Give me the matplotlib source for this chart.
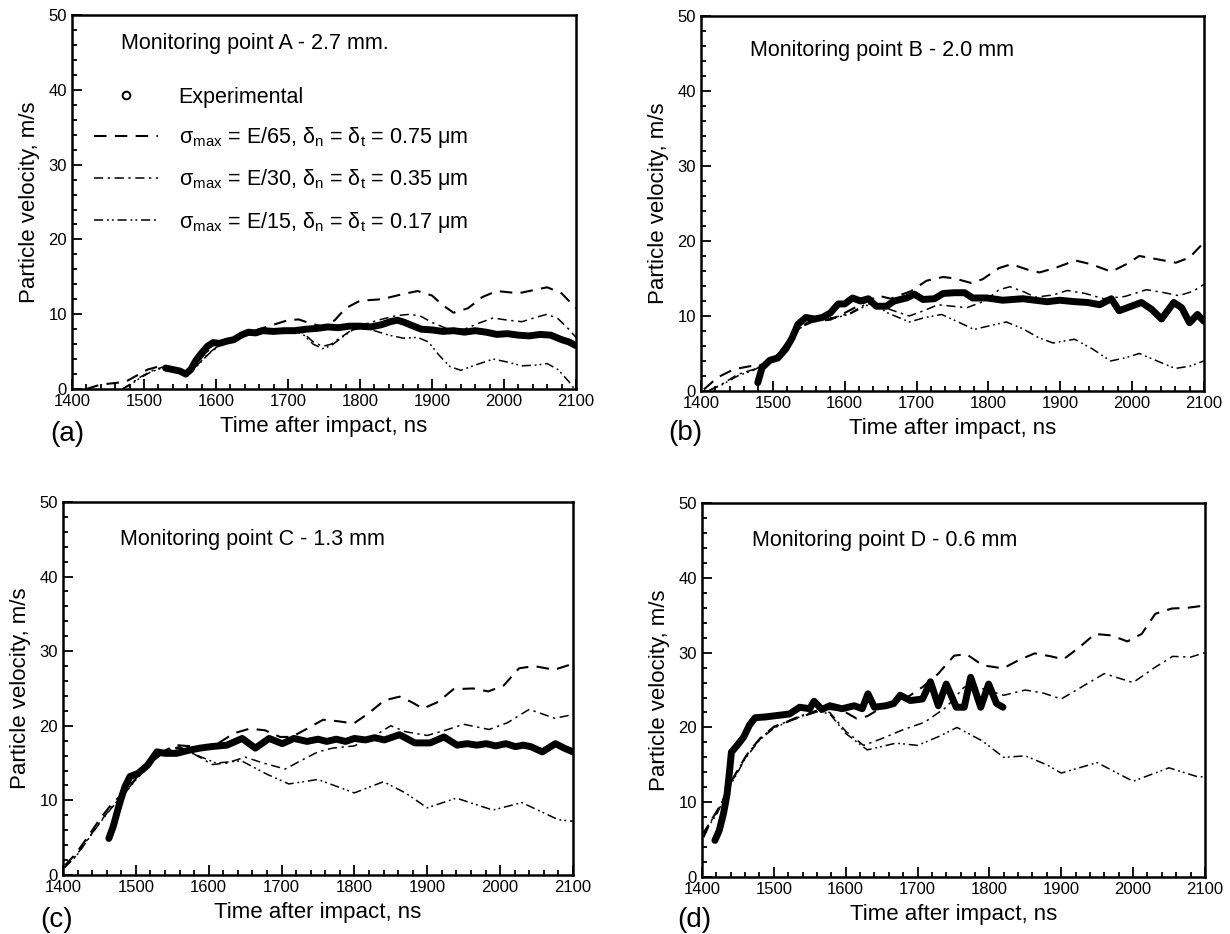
import matplotlib
matplotlib.use("Agg")
import matplotlib.pyplot as plt
from matplotlib.lines import Line2D
from matplotlib.ticker import MultipleLocator

plt.rcParams['font.family'] = ['Liberation Sans', 'DejaVu Sans']
plt.rcParams['mathtext.fontset'] = 'custom'
plt.rcParams['mathtext.rm'] = 'Liberation Sans'
plt.rcParams['mathtext.it'] = 'Liberation Sans:italic'

# ---------------- data: panel (a) ----------------
a_exp_t = [1530, 1540, 1550, 1558, 1565, 1572, 1580, 1588, 1596, 1605, 1615, 1625, 1635, 1645, 1655,
           1665, 1680, 1695, 1710, 1725, 1740, 1755, 1770, 1785, 1800, 1815, 1830, 1842, 1852, 1862,
           1872, 1885, 1900, 1915, 1930, 1945, 1960, 1975, 1990, 2005, 2020, 2035, 2050, 2065, 2080,
           2090, 2100]
a_exp_v = [2.8, 2.6, 2.4, 2.0, 2.6, 3.8, 4.8, 5.7, 6.2, 6.1, 6.4, 6.6, 7.2, 7.6, 7.5,
           7.8, 7.7, 7.8, 7.8, 8.0, 8.1, 8.3, 8.2, 8.4, 8.4, 8.3, 8.6, 9.0, 9.2, 8.9,
           8.5, 8.0, 7.9, 7.7, 7.8, 7.6, 7.8, 7.6, 7.3, 7.4, 7.2, 7.1, 7.3, 7.2, 6.6,
           6.3, 5.8]
a_e65_t = [1420, 1440, 1460, 1475, 1490, 1505, 1520, 1535, 1550, 1562, 1572, 1585, 1600, 1620, 1640,
           1660, 1680, 1700, 1715, 1730, 1750, 1765, 1780, 1800, 1830, 1860, 1880, 1900, 1915, 1930,
           1950, 1970, 1990, 2020, 2045, 2060, 2080, 2100]
a_e65_v = [0.0, 0.6, 0.8, 1.0, 1.8, 2.6, 3.0, 2.7, 2.4, 2.2, 3.2, 4.8, 6.0, 6.5, 7.3,
           8.0, 8.6, 9.2, 9.3, 8.8, 8.3, 9.2, 10.8, 11.8, 12.0, 12.7, 13.1, 12.5, 11.2, 10.2,
           10.8, 12.3, 13.1, 12.8, 13.3, 13.6, 12.8, 10.8]
a_e30_t = [1470, 1480, 1495, 1510, 1525, 1540, 1555, 1565, 1575, 1590, 1605, 1620, 1640, 1660, 1680,
           1700, 1720, 1735, 1748, 1760, 1775, 1790, 1805, 1825, 1850, 1870, 1885, 1900, 1920, 1945,
           1965, 1985, 2005, 2025, 2045, 2060, 2075, 2090, 2100]
a_e30_v = [0.0, 0.6, 1.6, 2.4, 2.9, 2.6, 2.1, 2.3, 3.3, 4.8, 5.9, 6.5, 7.2, 7.6, 7.9,
           8.0, 7.6, 6.3, 5.7, 6.0, 7.0, 8.0, 8.6, 9.2, 9.8, 10.0, 9.7, 8.9, 8.1, 8.0,
           8.8, 9.5, 9.2, 9.0, 9.6, 10.0, 9.4, 8.0, 6.9]
a_e15_t = [1470, 1480, 1495, 1510, 1525, 1540, 1555, 1565, 1575, 1590, 1605, 1620, 1640, 1660, 1680,
           1700, 1720, 1735, 1748, 1760, 1775, 1790, 1805, 1820, 1840, 1860, 1880, 1895, 1910, 1925,
           1940, 1960, 1985, 2005, 2025, 2045, 2060, 2075, 2090, 2098]
a_e15_v = [0.0, 0.5, 1.5, 2.3, 2.8, 2.6, 2.1, 2.2, 3.2, 4.7, 5.8, 6.4, 7.1, 7.5, 7.8,
           7.9, 7.4, 6.0, 5.4, 5.8, 6.9, 7.9, 8.2, 7.8, 7.2, 6.8, 6.9, 6.3, 4.5, 3.0,
           2.5, 3.2, 4.0, 3.6, 3.1, 3.2, 3.4, 2.6, 1.0, 0.0]

# ---------------- data: panel (b) ----------------
b_exp_t = [1479, 1485, 1496, 1507, 1518, 1527, 1535, 1546, 1558, 1569, 1580, 1591, 1600, 1611, 1622,
           1633, 1644, 1658, 1669, 1686, 1697, 1709, 1725, 1737, 1753, 1767, 1778, 1798, 1820, 1848,
           1865, 1882, 1899, 1921, 1938, 1955, 1971, 1982, 1999, 2013, 2027, 2041, 2058, 2069, 2080,
           2091, 2100]
b_exp_v = [1.1, 3.1, 4.1, 4.4, 5.6, 7.1, 8.9, 9.8, 9.6, 9.8, 10.4, 11.6, 11.6, 12.4, 12.0,
           12.3, 11.3, 11.3, 12.0, 12.4, 12.9, 12.2, 12.3, 13.0, 13.1, 13.1, 12.4, 12.4, 12.1, 12.3,
           12.1, 11.9, 12.1, 11.9, 11.8, 11.5, 12.3, 10.7, 11.3, 11.8, 10.9, 9.6, 11.8, 11.1, 9.1,
           10.2, 9.3]
b_e65_t = [1404, 1423, 1446, 1468, 1485, 1500, 1520, 1535, 1550, 1580, 1600, 1620, 1647, 1664, 1692,
           1714, 1737, 1753, 1776, 1792, 1815, 1832, 1854, 1871, 1893, 1921, 1943, 1971, 1994, 2010,
           2033, 2061, 2080, 2100]
b_e65_v = [0.2, 1.8, 2.9, 3.3, 3.5, 4.3, 6.0, 8.3, 9.2, 9.5, 10.4, 11.4, 12.7, 12.3, 13.3,
           14.7, 15.2, 15.0, 14.4, 14.9, 16.4, 16.9, 16.2, 15.8, 16.4, 17.4, 16.9, 15.9, 17.0, 18.0,
           17.6, 17.1, 17.8, 19.8]
b_e30_t = [1412, 1429, 1451, 1474, 1490, 1507, 1524, 1541, 1563, 1586, 1608, 1630, 1645, 1665, 1690,
           1710, 1730, 1750, 1770, 1795, 1815, 1830, 1850, 1865, 1890, 1910, 1935, 1960, 1990, 2020,
           2045, 2065, 2085, 2100]
b_e30_v = [0.1, 0.9, 2.2, 2.9, 3.8, 4.9, 7.1, 8.7, 9.6, 9.8, 10.4, 11.6, 11.6, 10.8, 10.0,
           10.7, 11.5, 11.3, 11.1, 12.0, 13.5, 13.9, 13.2, 12.5, 12.8, 13.4, 13.0, 12.3, 12.6, 13.5,
           13.1, 12.7, 13.3, 14.2]
b_e15_t = [1412, 1429, 1451, 1474, 1490, 1507, 1524, 1541, 1563, 1586, 1608, 1630, 1642, 1660, 1690,
           1712, 1735, 1758, 1780, 1802, 1825, 1848, 1870, 1890, 1920, 1945, 1970, 1990, 2010, 2035,
           2060, 2080, 2100]
b_e15_v = [0.1, 0.8, 2.0, 2.8, 3.7, 4.8, 7.0, 8.6, 9.5, 9.7, 10.3, 11.4, 11.5, 10.4, 9.2,
           9.8, 10.2, 9.2, 8.2, 8.7, 9.2, 8.3, 7.1, 6.4, 6.9, 5.6, 4.0, 4.4, 5.0, 4.0,
           3.0, 3.3, 4.0]

# ---------------- data: panel (c) ----------------
c_exp_t = [1463, 1469, 1474, 1479, 1485, 1492, 1503, 1516, 1529, 1540, 1556, 1572, 1588, 1603, 1625,
           1646, 1664, 1683, 1701, 1717, 1735, 1750, 1762, 1775, 1788, 1800, 1815, 1828, 1841, 1862,
           1883, 1904, 1923, 1941, 1955, 1968, 1981, 1994, 2008, 2021, 2032, 2042, 2058, 2076, 2088,
           2100]
c_exp_v = [4.9, 6.5, 8.3, 10.0, 11.8, 13.2, 13.6, 14.7, 16.5, 16.3, 16.3, 16.7, 17.0, 17.2, 17.4,
           18.3, 17.0, 18.3, 17.6, 18.3, 17.9, 18.2, 17.9, 18.2, 17.9, 18.3, 18.1, 18.4, 18.1, 18.8,
           17.7, 17.7, 18.5, 17.4, 17.6, 17.4, 17.6, 17.3, 17.6, 17.2, 17.4, 17.2, 16.5, 17.6, 17.0,
           16.5]
c_e65_t = [1403, 1418, 1434, 1450, 1466, 1482, 1498, 1519, 1540, 1556, 1582, 1609, 1635, 1656, 1677,
           1698, 1714, 1735, 1757, 1778, 1799, 1820, 1841, 1862, 1878, 1894, 1915, 1936, 1963, 1984,
           2005, 2026, 2047, 2074, 2100]
c_e65_v = [1.3, 2.9, 5.1, 7.4, 9.4, 10.9, 12.7, 15.2, 16.7, 17.4, 17.2, 17.4, 19.0, 19.6, 19.4,
           18.5, 18.5, 19.6, 20.8, 20.6, 20.3, 21.7, 23.4, 23.9, 23.2, 22.3, 23.2, 24.9, 25.0, 24.6,
           25.4, 27.7, 28.0, 27.5, 28.3]
c_e30_t = [1402, 1418, 1434, 1450, 1466, 1482, 1498, 1519, 1540, 1560, 1580, 1605, 1625, 1650, 1675,
           1705, 1730, 1750, 1770, 1800, 1825, 1850, 1870, 1900, 1925, 1950, 1985, 2010, 2040, 2075,
           2100]
c_e30_v = [1.0, 2.6, 4.8, 7.0, 9.0, 10.7, 12.6, 15.0, 16.6, 17.2, 16.2, 14.8, 15.0, 15.8, 15.0,
           14.2, 15.5, 16.5, 17.0, 17.3, 18.5, 20.0, 19.2, 18.7, 19.4, 20.2, 19.5, 20.4, 22.2, 21.0,
           21.5]
c_e15_t = [1402, 1418, 1434, 1450, 1466, 1482, 1498, 1519, 1540, 1560, 1585, 1610, 1645, 1680, 1710,
           1750, 1800, 1840, 1870, 1900, 1940, 1990, 2030, 2080, 2100]
c_e15_v = [1.0, 2.5, 4.7, 6.9, 8.9, 10.6, 12.5, 14.9, 16.5, 17.0, 16.0, 15.0, 15.3, 13.5, 12.2,
           12.8, 11.0, 12.5, 11.0, 9.0, 10.3, 8.7, 9.7, 7.4, 7.2]

# ---------------- data: panel (d) ----------------
d_exp_t = [1418, 1424, 1430, 1435, 1438, 1441, 1449, 1458, 1466, 1474, 1488, 1505, 1522, 1536, 1550,
           1556, 1567, 1578, 1595, 1612, 1623, 1631, 1640, 1656, 1667, 1676, 1690, 1707, 1718, 1729,
           1740, 1754, 1765, 1774, 1788, 1799, 1810, 1819]
d_exp_v = [4.9, 6.2, 8.5, 11.1, 13.8, 16.7, 17.6, 18.7, 20.3, 21.3, 21.4, 21.6, 21.8, 22.7, 22.5,
           23.5, 22.4, 22.9, 22.5, 22.9, 22.5, 24.5, 22.7, 22.9, 23.2, 24.3, 23.6, 23.8, 26.1, 22.9,
           25.8, 22.7, 22.7, 26.7, 22.7, 25.8, 23.2, 22.7]
d_e65_t = [1402, 1413, 1427, 1438, 1452, 1466, 1483, 1500, 1522, 1550, 1572, 1595, 1615, 1630, 1651,
           1679, 1707, 1729, 1751, 1768, 1791, 1819, 1841, 1863, 1886, 1903, 1925, 1947, 1970, 1992,
           2012, 2031, 2054, 2076, 2100]
d_e65_v = [5.3, 7.6, 9.8, 12.3, 14.7, 16.9, 18.7, 20.1, 20.9, 21.8, 22.5, 22.3, 21.2, 21.5, 22.7,
           23.6, 25.4, 27.2, 29.6, 29.8, 28.3, 27.9, 29.0, 29.9, 29.5, 29.1, 30.7, 32.5, 32.3, 31.5,
           32.5, 35.2, 35.9, 36.0, 36.3]
d_e30_t = [1402, 1420, 1440, 1460, 1480, 1500, 1530, 1560, 1578, 1600, 1625, 1650, 1680, 1710, 1740,
           1765, 1790, 1820, 1850, 1875, 1900, 1930, 1960, 2000, 2030, 2055, 2080, 2100]
d_e30_v = [6.0, 8.5, 12.5, 16.0, 18.5, 20.0, 21.3, 22.3, 22.0, 19.5, 17.6, 18.5, 19.7, 20.7, 22.7,
           25.4, 25.2, 24.3, 25.0, 24.6, 23.8, 25.5, 27.2, 26.0, 28.0, 29.5, 29.4, 30.0]
d_e15_t = [1402, 1420, 1440, 1460, 1480, 1500, 1530, 1560, 1578, 1600, 1630, 1670, 1700, 1730, 1755,
           1790, 1820, 1850, 1880, 1900, 1950, 2000, 2050, 2090, 2100]
d_e15_v = [5.8, 8.3, 12.3, 15.8, 18.3, 19.9, 21.2, 22.2, 21.8, 19.2, 17.0, 17.9, 17.6, 18.8, 20.0,
           18.2, 16.0, 16.2, 15.0, 13.9, 15.3, 12.8, 14.6, 13.4, 13.4]

panel_letters = ['(a)', '(b)', '(c)', '(d)']
panel_titles = ['Monitoring point A - 2.7 mm.', 'Monitoring point B - 2.0 mm',
                'Monitoring point C - 1.3 mm', 'Monitoring point D - 0.6 mm']
legend_labels = ['Experimental',
                 'σ$_{\\rm max}$ = E/65, δ$_{\\rm n}$ = δ$_{\\rm t}$ = 0.75 μm',
                 'σ$_{\\rm max}$ = E/30, δ$_{\\rm n}$ = δ$_{\\rm t}$ = 0.35 μm',
                 'σ$_{\\rm max}$ = E/15, δ$_{\\rm n}$ = δ$_{\\rm t}$ = 0.17 μm']
xlabel = 'Time after impact, ns'
ylabel = 'Particle velocity, m/s'

panels = [
    (a_exp_t, a_exp_v, a_e65_t, a_e65_v, a_e30_t, a_e30_v, a_e15_t, a_e15_v),
    (b_exp_t, b_exp_v, b_e65_t, b_e65_v, b_e30_t, b_e30_v, b_e15_t, b_e15_v),
    (c_exp_t, c_exp_v, c_e65_t, c_e65_v, c_e30_t, c_e30_v, c_e15_t, c_e15_v),
    (d_exp_t, d_exp_v, d_e65_t, d_e65_v, d_e30_t, d_e30_v, d_e15_t, d_e15_v),
]

# layout (figure fractions)
rects = [
    [0.0585, 0.5835, 0.4098, 0.4004],
    [0.5699, 0.5814, 0.4089, 0.4015],
    [0.0512, 0.0632, 0.4146, 0.3994],
    [0.5707, 0.0610, 0.4089, 0.4004],
]
letter_pos = [(-0.044, -0.12), (-0.066, -0.112), (-0.045, -0.12), (-0.05, -0.115)]
title_pos = [(0.097, 0.925), (0.097, 0.907), (0.112, 0.898), (0.099, 0.901)]

LS_65 = (0, (6, 4))
LS_30 = (0, (6, 3, 1.5, 3))
LS_15 = (0, (6, 2.5, 1.2, 2, 1.2, 2.5))

fig = plt.figure(figsize=(12.3, 9.34), dpi=100)
axes = []
for i, data in enumerate(panels):
    et, ev, t65, v65, t30, v30, t15, v15 = data
    ax = fig.add_axes(rects[i])
    axes.append(ax)
    ax.plot(t65, v65, color='black', lw=1.5, linestyle=LS_65)
    ax.plot(t30, v30, color='black', lw=1.1, linestyle=LS_30)
    ax.plot(t15, v15, color='black', lw=1.1, linestyle=LS_15)
    ax.plot(et, ev, color='black', lw=5, solid_capstyle='round', solid_joinstyle='round')
    ax.set_xlim(1400, 2100)
    ax.set_ylim(0, 50)
    ax.xaxis.set_major_locator(MultipleLocator(100))
    ax.xaxis.set_minor_locator(MultipleLocator(20))
    ax.yaxis.set_major_locator(MultipleLocator(10))
    ax.yaxis.set_minor_locator(MultipleLocator(2))
    ax.tick_params(which='both', direction='in', top=False, right=False, labelsize=12, width=1.3)
    ax.tick_params(which='major', length=7)
    ax.tick_params(which='minor', length=3.5)
    ax.tick_params(axis='x', which='major', pad=3.5)
    ax.tick_params(axis='y', which='major', pad=3.5)
    for s in ax.spines.values():
        s.set_linewidth(1.8)
    ax.set_xlabel(xlabel, fontsize=16, labelpad=5)
    ax.set_ylabel(ylabel, fontsize=16, labelpad=6)
    ax.text(letter_pos[i][0], letter_pos[i][1], panel_letters[i], transform=ax.transAxes,
            fontsize=20, ha='left', va='center')
    ax.text(title_pos[i][0], title_pos[i][1], panel_titles[i], transform=ax.transAxes,
            fontsize=15.5, ha='left', va='center')
    if i == 0:
        handles = [Line2D([], [], marker='o', ls='none', mfc='white', mec='black', ms=5.5, mew=1.4),
                   Line2D([], [], color='black', lw=1.5, linestyle=LS_65),
                   Line2D([], [], color='black', lw=1.1, linestyle=LS_30),
                   Line2D([], [], color='black', lw=1.1, linestyle=LS_15)]
        ax.legend(handles, legend_labels, loc='upper left', bbox_to_anchor=(0.043, 0.808),
                  frameon=False, fontsize=15.5, handlelength=3.0, handletextpad=0.95,
                  labelspacing=0.8, borderpad=0, borderaxespad=0)

# the "0" label sits on the axis line, just above the "1400" label, as in the source
fig.canvas.draw()
for ax in axes:
    ax.yaxis.get_major_ticks()[0].label1.set_verticalalignment('baseline')

fig.savefig('out.png', dpi=100)
